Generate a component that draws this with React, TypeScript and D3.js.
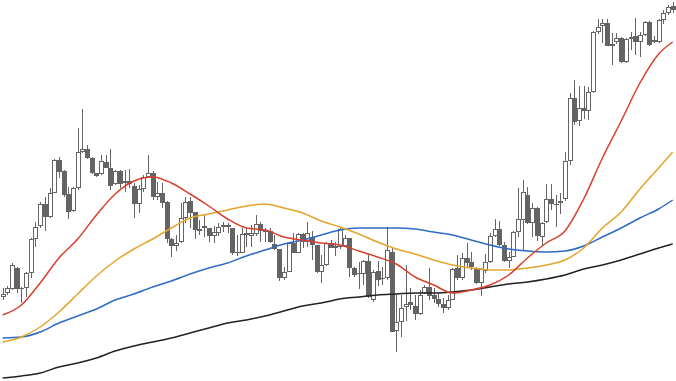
import React, { useEffect } from "react";
import * as d3 from "d3";

// OHLC per trading session (index points)
const opens = [103,107,111,132,112,112,127,161,174,196,183,207,240,229,206,189,212,248,251,242,227,226,238,232,216,229,219,219,214,196,211,223,227,203,207,198,161,154,158,182,199,188,171,172,172,164,167,175,173,172,148,147,167,164,166,176,168,169,156,151,122,128,157,147,166,158,163,155,128,135,157,152,153,154,162,132,127,126,139,100,129,122,122,148,69,78,93,98,94,86,107,113,105,101,96,92,100,132,122,142,138,132,117,129,138,164,171,155,139,143,168,180,205,177,192,163,178,201,196,197,201,239,302,279,292,289,308,368,374,377,356,358,362,338,361,364,358,365,378,360,358,380,387,394];
const highs = [112,114,137,133,113,128,162,178,198,203,212,241,243,230,213,213,272,291,255,243,227,245,245,251,230,230,230,231,217,215,225,245,229,218,217,199,162,165,197,203,203,188,180,185,172,174,177,178,177,172,165,172,172,175,185,178,172,172,165,151,133,158,167,167,167,178,169,155,145,158,160,158,173,165,162,133,138,140,145,130,139,133,173,153,105,105,135,112,105,110,115,132,112,107,102,105,132,145,147,157,148,133,132,146,167,181,179,158,148,169,212,220,213,197,193,178,216,216,205,207,248,307,320,314,314,313,369,381,381,381,367,367,363,362,368,382,368,379,379,364,381,390,395,398];
const lows = [100,105,110,107,97,103,122,153,172,169,182,207,222,203,181,188,210,247,241,226,223,225,232,210,215,212,208,212,182,187,208,223,200,200,192,157,143,149,157,177,172,161,165,163,158,157,164,168,167,145,144,147,153,153,164,158,158,157,150,119,120,128,147,147,152,153,140,127,117,134,152,144,151,153,123,123,111,115,102,98,114,115,120,68,48,63,79,90,80,85,106,100,97,93,87,90,100,120,120,133,130,116,104,127,137,163,154,138,132,143,163,150,176,163,159,155,177,190,173,186,199,235,275,274,281,280,307,366,357,354,335,356,337,337,350,345,343,364,354,357,357,376,385,387];
const closes = [106,112,135,111,111,127,161,173,196,183,207,240,228,205,188,212,248,251,242,227,224,239,232,214,229,216,217,216,196,211,223,227,203,207,197,161,154,157,182,198,187,170,169,174,164,168,173,173,175,147,147,166,165,167,176,169,170,158,151,122,128,157,147,166,158,167,155,128,135,157,152,154,171,162,132,125,126,139,103,128,120,121,150,68,78,92,96,95,86,105,113,104,101,96,92,100,131,122,142,137,133,117,131,138,164,171,155,139,143,168,181,208,177,192,164,177,201,196,195,199,239,302,278,292,289,308,368,373,377,354,354,362,338,361,363,358,365,378,355,358,380,387,393,390];

// Moving averages sampled at these session indices
const maIndex = [0,4,8,12,16,20,24,28,32,36,40,44,48,52,56,60,64,68,72,76,80,84,88,92,96,100,104,108,112,116,120,124,128,132,136,140,143];
const maRed = [85,95,117,142,161,185,206,219,223,217,206,194,181,172,170,163,160,157,155,149,143,136,123,115,107,110,115,125,142,157,169,201,242,279,317,346,358];
const maOrange = [58,63,73,88,106,124,139,151,161,172,182,186,190,194,196,192,187,179,173,166,158,151,146,140,135,132,130,130,132,135,140,152,172,188,211,232,248];
const maBlue = [62,63,68,77,84,91,100,106,113,119,126,132,137,144,150,156,160,165,170,172,172,172,171,168,165,160,155,151,149,148,149,154,163,172,182,191,200];
const maBlack = [22,24,27,33,37,42,49,54,58,62,67,72,77,80,84,89,94,97,101,103,105,106,107,107,108,110,113,116,118,121,125,131,135,140,146,152,156];

const W = 676;
const H = 381;

export default function App() {
  useEffect(() => {
    document.body.style.margin = "0";
  }, []);

  const n = opens.length;
  const x = d3.scaleLinear().domain([0, n - 1]).range([2.7, 672.7]);
  const y = d3.scaleLinear().domain([19, 400]).range([H, 0]);

  const candleColor = "#646464";

  const lineGen = (vals: number[]) =>
    d3
      .line<number>()
      .x((_, i) => x(maIndex[i]))
      .y((v) => y(v))
      .curve(d3.curveMonotoneX)(vals) || "";

  const lines = [
    { vals: maBlack, color: "#222222" },
    { vals: maBlue, color: "#2f6bc4" },
    { vals: maOrange, color: "#e3a52b" },
    { vals: maRed, color: "#d7402e" },
  ];

  return (
    <svg width={W} height={H} style={{ position: "absolute", left: 0, top: 0, background: "#fff" }}>
      <g>
        {opens.map((o, i) => {
          const c = closes[i];
          const up = c >= o;
          const r = Math.round(x(i));
          const cx = r + 0.5;
          const top = Math.round(y(Math.max(o, c)));
          const bot = Math.round(y(Math.min(o, c)));
          const h = Math.max(1, bot - top);
          return (
            <g key={i}>
              <line x1={cx} x2={cx} y1={y(highs[i])} y2={y(lows[i])} stroke={candleColor} strokeWidth={1} />
              {up ? (
                <rect x={r - 1.5} y={top + 0.5} width={4} height={Math.max(1, h - 1)} fill="#fff" stroke={candleColor} strokeWidth={1} />
              ) : (
                <rect x={r - 2} y={top} width={5} height={h} fill={candleColor} />
              )}
            </g>
          );
        })}
      </g>
      <g fill="none">
        {lines.map((l, k) => (
          <path key={k} d={lineGen(l.vals)} stroke={l.color} strokeWidth={1.5} />
        ))}
      </g>
    </svg>
  );
}
